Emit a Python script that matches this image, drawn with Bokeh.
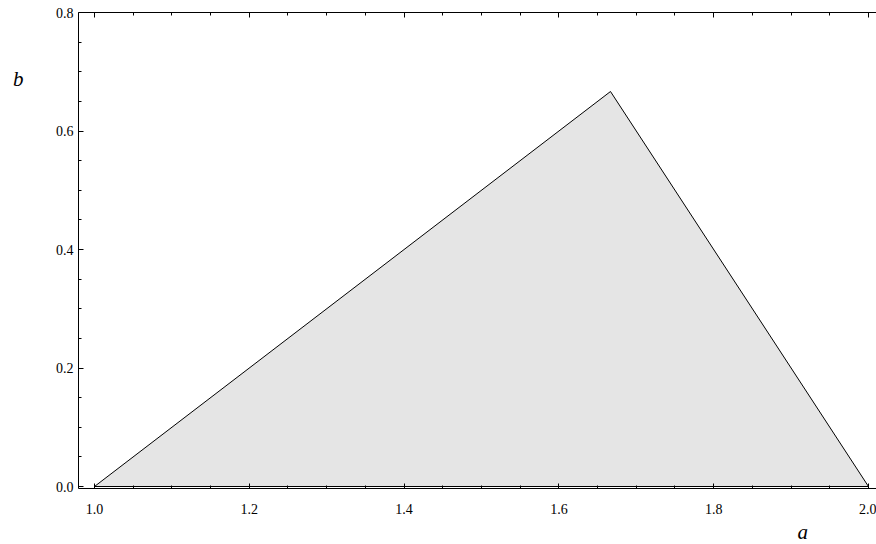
from bokeh.plotting import figure
from bokeh.models import (LinearAxis, FixedTicker, PrintfTickFormatter,
                          CustomJSTickFormatter, Title)
from bokeh.embed import file_html
from bokeh.resources import INLINE

# Region vertices (a, b)
a_vals = [1.0, 5.0 / 3.0, 2.0]
b_vals = [0.0, 2.0 / 3.0, 0.0]

x_ticks = [1.0, 1.2, 1.4, 1.6, 1.8, 2.0]
x_minor = [1.05, 1.1, 1.15, 1.25, 1.3, 1.35, 1.45, 1.5, 1.55, 1.65, 1.7, 1.75,
           1.85, 1.9, 1.95]
y_ticks = [0.0, 0.2, 0.4, 0.6, 0.8]
y_minor = [0.05, 0.1, 0.15, 0.25, 0.3, 0.35, 0.45, 0.5, 0.55, 0.65, 0.7, 0.75]

x_title = "a"
y_title = "b"

FONT = "Liberation Serif"

p = figure(width=876, height=544, x_range=(0.97933, 2.01034),
           y_range=(-0.00336, 0.8), output_backend="svg",
           toolbar_location=None, x_axis_type=None, y_axis_type=None,
           min_border_left=78, min_border_right=0, min_border_top=12,
           min_border_bottom=54)
p.outline_line_color = None
p.background_fill_color = "white"
p.border_fill_color = "white"
p.xgrid.visible = False
p.ygrid.visible = False


def style(ax, labels=True):
    ax.axis_line_color = "black"
    ax.axis_line_width = 1
    ax.major_tick_in = 5
    ax.major_tick_out = 0
    ax.minor_tick_in = 3
    ax.minor_tick_out = 0
    ax.major_tick_line_color = "black"
    ax.minor_tick_line_color = "black"
    ax.major_label_text_font = FONT
    ax.major_label_text_font_size = "14px"
    ax.major_label_text_color = "black"
    if not labels:
        ax.formatter = CustomJSTickFormatter(code="return ''")
        ax.major_label_text_font_size = "0px"
        ax.major_label_standoff = 0


xb = LinearAxis(ticker=FixedTicker(ticks=x_ticks, minor_ticks=x_minor),
                formatter=PrintfTickFormatter(format="%.1f"))
style(xb)
xb.major_label_standoff = 15
p.add_layout(xb, "below")

xt = LinearAxis(ticker=FixedTicker(ticks=x_ticks, minor_ticks=x_minor))
style(xt, labels=False)
p.add_layout(xt, "above")

yl = LinearAxis(ticker=FixedTicker(ticks=y_ticks, minor_ticks=y_minor),
                formatter=PrintfTickFormatter(format="%.1f"))
style(yl)
yl.major_label_standoff = 5
p.add_layout(yl, "left")

# y-axis title: an otherwise invisible axis carrying only the label
ya = LinearAxis(ticker=FixedTicker(ticks=[]))
ya.axis_line_color = None
ya.major_tick_line_color = None
ya.minor_tick_line_color = None
ya.major_tick_in = 0
ya.major_tick_out = 0
ya.minor_tick_in = 0
ya.minor_tick_out = 0
ya.major_label_text_font_size = "0px"
ya.major_label_standoff = 0
ya.axis_label = "\n\n\n\n\n" + y_title
ya.axis_label_text_font = FONT
ya.axis_label_text_font_style = "italic"
ya.axis_label_text_font_size = "21px"
ya.axis_label_text_line_height = 1.1
ya.axis_label_text_color = "black"
ya.axis_label_standoff = 29
ya.axis_label_orientation = "horizontal"
if "axis_label_align" in LinearAxis.properties():
    ya.axis_label_align = "end"
p.add_layout(ya, "left")

# x-axis title near the right end
p.add_layout(Title(text=x_title, align="left", offset=719, text_font=FONT,
                   text_font_style="italic", text_font_size="21px",
                   text_color="black", standoff=2), "below")

p.patch(a_vals, b_vals, fill_color="#e5e5e5", line_color="black",
        line_width=1)

open("out.html", "w").write(file_html(p, INLINE))
